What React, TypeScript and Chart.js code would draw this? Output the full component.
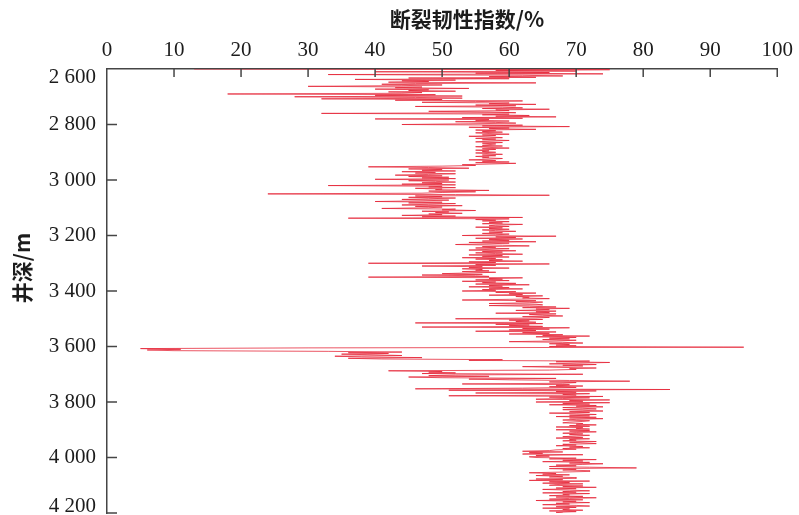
import { useEffect, useRef } from "react";
import { Chart, registerables } from "chart.js";

Chart.register(...registerables);

const X_TITLE = "断裂韧性指数/%";
const Y_TITLE = "井深/m";

const X_MIN = 0;
const X_MAX = 100;
const X_STEP = 10;
const Y_MIN = 2600;
const Y_MAX = 4200;
const Y_STEP = 200;
const Y_TICK_VALUES = [2600, 2800, 3000, 3200, 3400, 3600, 3800, 4000, 4200];
const Y_TICK_LABELS = ["2 600", "2 800", "3 000", "3 200", "3 400", "3 600", "3 800", "4 000", "4 200"];

const DEPTH_START = 2600;
const DEPTH_STEP = 2.5;

// fracture toughness index (%), every 2.5 m from 2600 m
const seg2600 = [
  13, 75, 58, 70, 40, 66, 55, 74, 33, 62,
  68, 57, 64, 45, 60, 37, 52, 44, 48, 42,
  64, 46, 41, 50, 44, 30, 47, 43, 54, 40,
  48, 45, 52, 42, 47, 44, 18, 49, 40, 53,
];
const seg2700 = [
  28, 46, 53, 32, 50, 43, 62, 55, 47, 60,
  57, 64, 55, 61, 46, 59, 62, 56, 66, 58,
  60, 48, 57, 61, 32, 60, 56, 63, 58, 67,
  53, 62, 40, 57, 55, 60, 52, 58, 61, 54,
];
const seg2800 = [
  44, 62, 56, 69, 54, 60, 57, 64, 55, 58,
  56, 59, 55, 57, 60, 56, 58, 54, 57, 59,
  55, 58, 56, 60, 57, 55, 59, 56, 58, 57,
  56, 59, 55, 57, 60, 56, 58, 55, 57, 56,
];
const seg2900 = [
  58, 55, 57, 59, 56, 58, 55, 57, 56, 59,
  57, 54, 58, 56, 60, 55, 61, 57, 53, 55,
  50, 39, 48, 54, 45, 50, 47, 52, 44, 49,
  46, 52, 48, 43, 50, 45, 51, 47, 52, 40,
];
const seg3000 = [
  51, 45, 49, 52, 47, 50, 44, 52, 33, 50,
  48, 52, 46, 50, 49, 57, 48, 55, 50, 47,
  24, 52, 66, 46, 50, 45, 52, 48, 44, 51,
  47, 40, 50, 45, 52, 48, 44, 53, 46, 50,
];
const seg3100 = [
  48, 41, 52, 50, 55, 47, 51, 49, 53, 48,
  50, 44, 52, 47, 62, 36, 60, 55, 58, 56,
  60, 57, 59, 56, 62, 58, 57, 60, 55, 59,
  57, 60, 56, 58, 61, 57, 59, 56, 60, 58,
];
const seg3200 = [
  53, 67, 58, 61, 55, 62, 57, 60, 56, 64,
  54, 60, 57, 52, 59, 63, 56, 58, 55, 60,
  57, 54, 61, 56, 59, 55, 58, 62, 54, 59,
  56, 60, 53, 58, 55, 59, 57, 62, 54, 58,
];
const seg3300 = [
  39, 66, 55, 58, 47, 56, 54, 60, 53, 56,
  55, 57, 53, 58, 54, 50, 56, 47, 55, 57,
  39, 62, 57, 59, 55, 60, 53, 58, 56, 61,
  55, 63, 57, 59, 54, 60, 57, 62, 56, 58,
];
const seg3400 = [
  53, 61, 58, 64, 60, 62, 57, 65, 61, 63,
  62, 66, 60, 53, 64, 61, 65, 63, 57, 64,
  65, 57, 63, 67, 62, 69, 64, 66, 61, 67,
  64, 66, 58, 67, 63, 65, 68, 62, 66, 64,
];
const seg3500 = [
  52, 65, 60, 63, 61, 64, 46, 65, 58, 63,
  60, 65, 47, 69, 62, 66, 60, 64, 55, 67,
  62, 66, 60, 68, 65, 72, 64, 70, 66, 69,
  65, 70, 67, 60, 68, 71, 66, 69, 67, 70,
];
const seg3600 = [
  66, 95, 30, 5, 11, 6, 10, 33, 44, 36,
  42, 35, 40, 44, 34, 38, 47, 36, 41, 59,
  54, 72, 67, 75, 70, 66, 73, 68, 71, 62,
  67, 73, 69, 70, 66, 42, 50, 48, 52, 47,
];
const seg3700 = [
  71, 52, 48, 57, 45, 50, 67, 54, 60, 69,
  78, 66, 70, 68, 53, 69, 67, 71, 66, 70,
  62, 46, 84, 51, 73, 67, 70, 55, 72, 68,
  70, 51, 74, 66, 72, 68, 64, 75, 69, 71,
];
const seg3800 = [
  64, 75, 68, 72, 66, 73, 70, 74, 68, 71,
  73, 68, 71, 74, 69, 72, 66, 70, 73, 69,
  72, 67, 73, 69, 74, 70, 68, 72, 71, 69,
  68, 71, 70, 73, 69, 72, 67, 71, 70, 72,
];
const seg3900 = [
  67, 72, 69, 73, 70, 68, 71, 69, 72, 70,
  68, 71, 67, 72, 69, 70, 68, 73, 69, 71,
  73, 68, 70, 67, 71, 69, 72, 68, 70, 67,
  66, 62, 68, 63, 65, 62, 71, 64, 66, 63,
];
const seg4000 = [
  64, 70, 66, 73, 68, 71, 65, 72, 69, 74,
  71, 67, 70, 66, 72, 79, 66, 70, 68, 72,
  72, 68, 63, 67, 65, 69, 64, 68, 66, 70,
  70, 64, 68, 63, 72, 66, 69, 65, 71, 67,
];
const seg4100 = [
  66, 71, 68, 73, 67, 70, 65, 69, 72, 68,
  70, 65, 72, 68, 69, 66, 71, 67, 73, 69,
  66, 71, 64, 70, 68, 72, 67, 69, 65, 70,
  72, 67, 70, 65, 69, 68, 71, 66, 70, 67,
  68,
];

const VALUES = [
  ...seg2600, ...seg2700, ...seg2800, ...seg2900,
  ...seg3000, ...seg3100, ...seg3200, ...seg3300,
  ...seg3400, ...seg3500, ...seg3600, ...seg3700,
  ...seg3800, ...seg3900, ...seg4000, ...seg4100,
];

const LINE_COLOR = "rgba(230, 38, 56, 0.78)";
const AXIS_COLOR = "#454545";
const TEXT_COLOR = "#1c1c1c";

const decorPlugin = {
  id: "axisDecor",
  afterDraw(chart: any) {
    const { ctx, chartArea, scales } = chart;
    const xs = scales.x;
    const ys = scales.y;
    ctx.save();
    ctx.strokeStyle = AXIS_COLOR;
    ctx.lineWidth = 1.5;
    xs.ticks.forEach((t: any) => {
      if (t.value === X_MIN) return;
      const px = xs.getPixelForValue(t.value);
      ctx.beginPath();
      ctx.moveTo(px, chartArea.top);
      ctx.lineTo(px, chartArea.top + 8);
      ctx.stroke();
    });
    Y_TICK_VALUES.forEach((v) => {
      if (v === Y_MIN) return;
      const py = ys.getPixelForValue(v);
      ctx.beginPath();
      ctx.moveTo(chartArea.left, py);
      ctx.lineTo(chartArea.left + 10, py);
      ctx.stroke();
    });
    ctx.fillStyle = TEXT_COLOR;
    ctx.font = '21px "Liberation Serif"';
    ctx.textAlign = "right";
    ctx.textBaseline = "middle";
    Y_TICK_VALUES.forEach((v, i) => {
      let py = ys.getPixelForValue(v);
      py = Math.min(Math.max(py, chartArea.top + 8), chart.height - 9);
      ctx.fillText(Y_TICK_LABELS[i], chartArea.left - 11, py);
    });
    ctx.font = 'bold 21px "Noto Sans CJK SC"';
    ctx.textAlign = "center";
    ctx.fillText(X_TITLE, 467, 19);
    ctx.translate(22, 268);
    ctx.rotate(-Math.PI / 2);
    ctx.fillText(Y_TITLE, 0, 0);
    ctx.restore();
  },
};

export default function App() {
  const ref = useRef<HTMLCanvasElement | null>(null);
  useEffect(() => {
    document.body.style.margin = "0";
    const canvas = ref.current;
    if (!canvas) return;
    const points = VALUES.map((v, i) => ({ x: v, y: DEPTH_START + i * DEPTH_STEP }));
    const chart = new Chart(canvas, {
      type: "scatter",
      data: {
        datasets: [
          {
            data: points,
            showLine: true,
            borderColor: LINE_COLOR,
            backgroundColor: LINE_COLOR,
            borderWidth: 1,
            pointRadius: 0,
            tension: 0,
          },
        ],
      },
      options: {
        animation: false,
        responsive: true,
        maintainAspectRatio: false,
        layout: { padding: { left: 0, right: 18, top: 0, bottom: 2 } },
        plugins: { legend: { display: false }, tooltip: { enabled: false } },
        scales: {
          x: {
            type: "linear",
            position: "top",
            min: X_MIN,
            max: X_MAX,
            afterFit: (s: any) => {
              s.height = 69;
            },
            ticks: {
              stepSize: X_STEP,
              autoSkip: false,
              maxRotation: 0,
              padding: 6,
              color: TEXT_COLOR,
              font: { family: "Liberation Serif", size: 21 },
            },
            grid: { display: true, drawOnChartArea: false, drawTicks: false },
            border: { display: true, color: AXIS_COLOR, width: 1.5 },
          },
          y: {
            type: "linear",
            reverse: true,
            min: Y_MIN,
            max: Y_MAX,
            afterFit: (s: any) => {
              s.width = 107;
            },
            ticks: { stepSize: Y_STEP, display: false },
            grid: { display: true, drawOnChartArea: false, drawTicks: false },
            border: { display: true, color: AXIS_COLOR, width: 1.5 },
          },
        },
      },
      plugins: [decorPlugin],
    });
    return () => chart.destroy();
  }, []);
  return (
    <div style={{ position: "fixed", left: 0, top: 0, width: 799, height: 515, background: "#fff" }}>
      <canvas ref={ref} />
    </div>
  );
}
